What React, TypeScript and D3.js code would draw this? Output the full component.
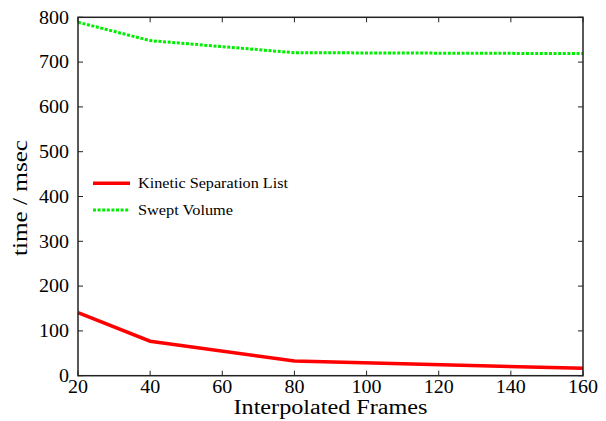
import React from "react";
import * as d3 from "d3";

const frames = [20, 40, 80, 160];
const kineticSeparation = [141, 77, 33, 16.5];
const sweptVolume = [789, 748, 721, 719];
const xTicks = [20, 40, 60, 80, 100, 120, 140, 160];
const yTicks = [0, 100, 200, 300, 400, 500, 600, 700, 800];
const seriesNames = ["Kinetic Separation List", "Swept Volume"];

const W = 606, H = 421;
const M = { left: 78, right: 583, top: 17.3, bottom: 375.7 };

export default function App() {
  const x = d3.scaleLinear().domain([20, 160]).range([M.left, M.right]);
  const y = d3.scaleLinear().domain([0, 800]).range([M.bottom, M.top]);
  const line = d3.line<[number, number]>().x(d => x(d[0])).y(d => y(d[1]));
  const red = line(frames.map((f, i) => [f, kineticSeparation[i]]))!;
  const green = line(frames.map((f, i) => [f, sweptVolume[i]]))!;
  const font = "'Liberation Serif', 'DejaVu Serif', serif";
  const ax = "#222";
  return (
    <svg width={W} height={H} style={{ position: "absolute", left: 0, top: 0, background: "#fff" }}>
      <path d={green} fill="none" stroke="#00ee00" strokeWidth={3} strokeDasharray="3,1.6" />
      <path d={red} fill="none" stroke="#ff0000" strokeWidth={3.5} />
      <rect x={M.left} y={M.top} width={M.right - M.left} height={M.bottom - M.top} fill="none" stroke={ax} strokeWidth={1.5} />
      {xTicks.map(t => (
        <g key={"x" + t}>
          <line x1={x(t)} x2={x(t)} y1={M.bottom} y2={M.bottom - 5} stroke={ax} strokeWidth={1} />
          <line x1={x(t)} x2={x(t)} y1={M.top} y2={M.top + 5} stroke={ax} strokeWidth={1} />
          <text x={x(t)} y={393} textAnchor="middle" fontFamily={font} fontSize={18} fill="#000" textLength={t >= 100 ? 30 : 20} lengthAdjust="spacingAndGlyphs">{t}</text>
        </g>
      ))}
      {yTicks.map(t => (
        <g key={"y" + t}>
          <line x1={M.left} x2={M.left + 5} y1={y(t)} y2={y(t)} stroke={ax} strokeWidth={1} />
          <line x1={M.right} x2={M.right - 5} y1={y(t)} y2={y(t)} stroke={ax} strokeWidth={1} />
          <text x={69} y={y(t)} dy="0.35em" textAnchor="end" fontFamily={font} fontSize={18} fill="#000" textLength={t >= 100 ? 30 : 10} lengthAdjust="spacingAndGlyphs">{t}</text>
        </g>
      ))}
      <text x={(M.left + M.right) / 2} y={414} textAnchor="middle" fontFamily={font} fontSize={20} fill="#000" textLength={194} lengthAdjust="spacingAndGlyphs">Interpolated Frames</text>
      <text transform={`translate(27,198) rotate(-90)`} textAnchor="middle" fontFamily={font} fontSize={20} fill="#000" textLength={116} lengthAdjust="spacingAndGlyphs">time / msec</text>
      <line x1={93} x2={130} y1={183.3} y2={183.3} stroke="#ff0000" strokeWidth={3.5} />
      <text x={138} y={183.3} dy="0.35em" fontFamily={font} fontSize={14} fill="#000" textLength={150} lengthAdjust="spacingAndGlyphs">{seriesNames[0]}</text>
      <line x1={93} x2={130} y1={210} y2={210} stroke="#00ee00" strokeWidth={3} strokeDasharray="3,1.6" />
      <text x={138} y={210} dy="0.35em" fontFamily={font} fontSize={14} fill="#000" textLength={95} lengthAdjust="spacingAndGlyphs">{seriesNames[1]}</text>
    </svg>
  );
}
